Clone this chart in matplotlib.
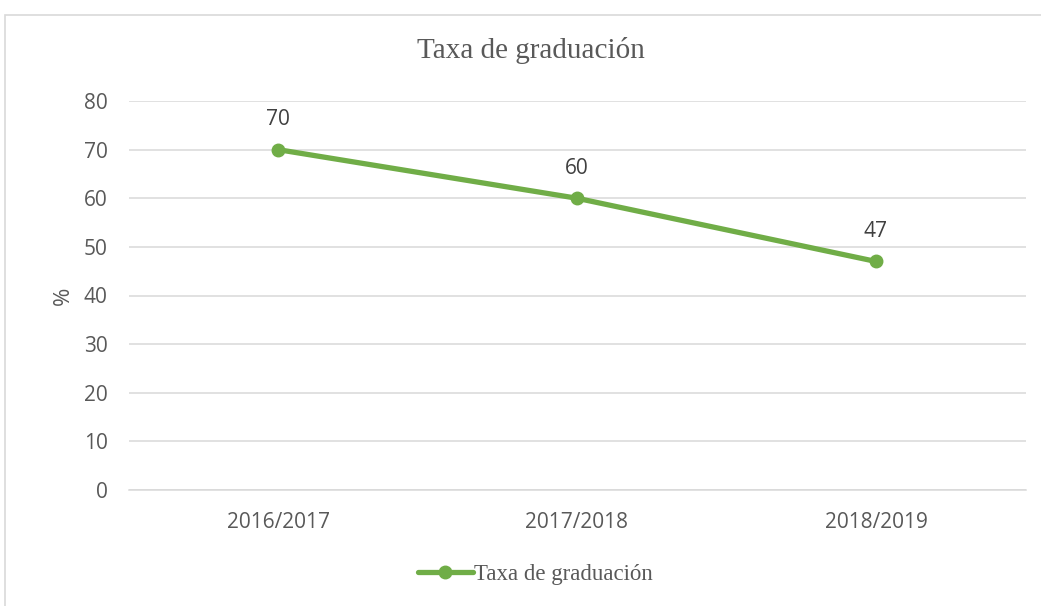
import matplotlib
matplotlib.use("Agg")
import matplotlib.pyplot as plt
from matplotlib.patches import Rectangle

categories = ["2016/2017", "2017/2018", "2018/2019"]
values = [70, 60, 47]
yticks = [0, 10, 20, 30, 40, 50, 60, 70, 80]
series_name = "Taxa de graduación"
title = "Taxa de graduación"

green = "#70AD47"
txt = "#595959"
sans = ["Open Sans", "DejaVu Sans"]
serif = ["Liberation Serif", "DejaVu Serif"]

fig = plt.figure(figsize=(10.41, 6.06), dpi=100)
fig.patch.set_facecolor("white")
ax = fig.add_axes([128.5/1041, 116/606, 897/1041, 389/606])

x = list(range(len(categories)))
ax.plot(x, values, color=green, lw=3.8, marker="o", markersize=9,
        solid_capstyle="round", label=series_name, zorder=3)
for xi, v in zip(x, values):
    ax.annotate(str(v), (xi, v), xytext=(0, 21.5), textcoords="offset points",
                ha="center", va="center", fontsize=15, color="#404040", family=sans)

ax.set_xlim(-0.5, len(categories) - 0.5)
ax.set_ylim(0, 80)
ax.set_yticks(yticks)
ax.set_xticks(x)
ax.set_xticklabels(categories)
ax.grid(axis="y", color="#D9D9D9", lw=1.1)
ax.set_axisbelow(True)
for s in ["top", "right", "left"]:
    ax.spines[s].set_visible(False)
ax.spines["bottom"].set_color("#D9D9D9")
ax.spines["bottom"].set_linewidth(1.1)
ax.tick_params(length=0, labelsize=15, labelcolor=txt)
ax.tick_params(axis="y", pad=15)
ax.tick_params(axis="x", pad=16)
for lab in ax.get_xticklabels() + ax.get_yticklabels():
    lab.set_family(sans)
ax.set_ylabel("%", fontsize=16, color=txt, family=sans, labelpad=7)

fig.text(531/1041, 1 - 51/606, title, ha="center", va="center",
         fontsize=21, color=txt, family=serif)

leg = fig.legend(loc="center", bbox_to_anchor=(535/1041, 1 - 574/606),
                 frameon=False, prop={"family": serif, "size": 16.5},
                 handlelength=2.4, handletextpad=0.05)
for t in leg.get_texts():
    t.set_color(txt)

fig.patches.append(Rectangle((4.5/1041, -0.1), 1.2, 1 - 14.5/606 + 0.1,
                             transform=fig.transFigure, fill=False,
                             edgecolor="#D9D9D9", lw=1.2))

fig.savefig("out.png", dpi=100)
